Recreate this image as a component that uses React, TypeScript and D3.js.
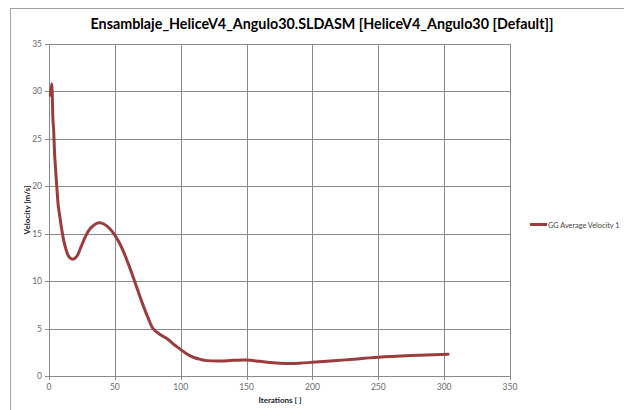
import React from "react";
import * as d3 from "d3";

const iterations = [1, 2, 3, 3.5, 4.3, 5, 6, 7, 8, 9.5, 11, 13, 15, 18, 21, 24, 27, 30, 34, 38, 42, 46, 50, 55, 60, 65, 70, 75, 79, 84, 90, 95, 100, 105, 110, 115, 120, 130, 140, 150, 160, 170, 180, 190, 200, 225, 250, 275, 303];
const velocity = [29.6, 30.8, 27.0, 26.0, 23.3, 21.8, 19.8, 18.0, 17.0, 15.6, 14.4, 13.3, 12.6, 12.3, 12.6, 13.5, 14.5, 15.3, 15.9, 16.15, 16.0, 15.55, 14.85, 13.6, 11.9, 10.0, 8.0, 6.2, 5.0, 4.4, 3.9, 3.3, 2.8, 2.3, 1.95, 1.75, 1.62, 1.58, 1.65, 1.68, 1.55, 1.4, 1.33, 1.35, 1.44, 1.7, 1.97, 2.15, 2.3];
const xTicks = [0, 50, 100, 150, 200, 250, 300, 350];
const yTicks = [0, 5, 10, 15, 20, 25, 30, 35];
const title = "Ensamblaje_HeliceV4_Angulo30.SLDASM [HeliceV4_Angulo30 [Default]]";
const xTitle = "Iterations [ ]";
const yTitle = "Velocity [m/s]";
const seriesName = "GG Average Velocity 1";

export default function App() {
  const W = 624, H = 410;
  const x = d3.scaleLinear().domain([0, 350]).range([49, 510]);
  const y = d3.scaleLinear().domain([0, 35]).range([376, 44]);
  const pts = iterations.map((it, i) => [it, velocity[i]] as [number, number]);
  const line = d3.line<[number, number]>().x(d => x(d[0])).y(d => y(d[1])).curve(d3.curveCatmullRom.alpha(0.5));
  const font = "Lato, 'Open Sans', sans-serif";
  const grid = "#8a8a8a";
  const lineColor = "#9c3d3d";
  return (
    <svg width={W} height={H} style={{ position: "absolute", left: 0, top: 0, background: "#fff" }} fontFamily={font}>
      <rect x={0} y={0} width={W} height={H} fill="#fff" />
      <rect x={10.5} y={8.5} width={630} height={420} fill="none" stroke="#a0a0a0" strokeWidth={1} />
      <text x={322} y={29} textAnchor="middle" fontSize={14.3} fontWeight="bold" fill="#000">{title}</text>
      {xTicks.map(t => (
        <line key={"gx" + t} x1={Math.round(x(t)) + 0.5} x2={Math.round(x(t)) + 0.5} y1={y(35)} y2={y(0) + 4} stroke={grid} strokeWidth={1} />
      ))}
      {yTicks.map(t => (
        <line key={"gy" + t} x1={x(0) - 4} x2={x(350)} y1={Math.round(y(t)) + 0.5} y2={Math.round(y(t)) + 0.5} stroke={grid} strokeWidth={1} />
      ))}
      {yTicks.map(t => (
        <text key={"ty" + t} x={42} y={y(t) + 3} textAnchor="end" fontSize={8.5} fill="#6a6a6a">{t}</text>
      ))}
      {xTicks.map(t => (
        <text key={"tx" + t} x={x(t)} y={390} textAnchor="middle" fontSize={8.5} fill="#6a6a6a">{t}</text>
      ))}
      <text x={280} y={403} textAnchor="middle" fontSize={8} fontWeight="bold" fill="#222">{xTitle}</text>
      <text transform={`translate(30,210) rotate(-90)`} textAnchor="middle" fontSize={8} fontWeight="bold" fill="#222">{yTitle}</text>
      <path d={line(pts) || ""} fill="none" stroke={lineColor} strokeWidth={3} strokeLinejoin="round" strokeLinecap="round" />
      <line x1={530} x2={547} y1={224.5} y2={224.5} stroke={lineColor} strokeWidth={3} />
      <text x={548} y={227.5} fontSize={7.3} fill="#444">{seriesName}</text>
    </svg>
  );
}
